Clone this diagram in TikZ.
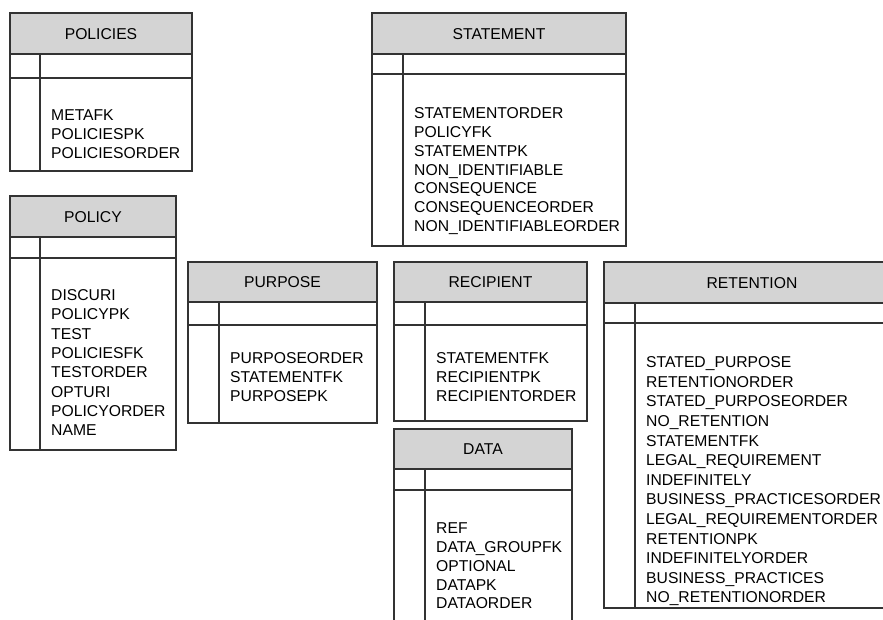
\documentclass[tikz,border=0pt]{standalone}
\usepackage{fontspec}
\setmainfont{Liberation Sans}
% \enttable{id}{left}{right}{top}{header bottom}{row bottom}{bottom}{divider}{title}
\newcommand{\enttable}[9]{%
  \fill[headfill] (#2,#4) rectangle (#3,#5);
  \draw[frame] (#2,#4) rectangle (#3,#7);
  \draw[frame] (#2,#5) -- (#3,#5);
  \draw[frame] (#2,#6) -- (#3,#6);
  \draw[frame] (#8,#5) -- (#8,#7);
  \node[titletext] (#1-title) at ({(#2+#3)/2},{(#4+#5)/2+5.6}) {#9};
}
% \entfields{id}{text x}{first field centre}{spacing}{fields}
\newcommand{\entfields}[5]{%
  \foreach \fld [count=\k] in {#5}{
    \node[fieldtext] (#1-f\k) at (#2,{#3+5.6+(\k-1)*#4}) {\fld};
  }%
}
\begin{document}
\begin{tikzpicture}[x=1pt,y=-1pt,
  frame/.style={draw=black!80, line width=1.3pt},
  headfill/.style={fill=black!17},
  fieldtext/.style={inner sep=0pt, anchor=base west, font=\fontsize{15.7}{19}\selectfont},
  titletext/.style={inner sep=0pt, anchor=base, font=\fontsize{15.7}{19}\selectfont}]
% canvas
\useasboundingbox (0,0) rectangle (883,619);
\clip (0,0) rectangle (883,619);
\enttable{policies}{10}{192}{13}{54}{78}{171}{40}{POLICIES}
\entfields{policies}{51}{115}{19}{METAFK,POLICIESPK,POLICIESORDER}
\enttable{policy}{10}{176}{196}{237}{258}{450}{40}{POLICY}
\entfields{policy}{51}{295}{19.3}{DISCURI,POLICYPK,TEST,POLICIESFK,TESTORDER,OPTURI,POLICYORDER,NAME}
\enttable{statement}{372}{626}{13}{54}{74}{246}{403}{STATEMENT}
\entfields{statement}{414}{113}{18.8}{STATEMENTORDER,POLICYFK,STATEMENTPK,NON\_IDENTIFIABLE,CONSEQUENCE,CONSEQUENCEORDER,NON\_IDENTIFIABLEORDER}
\enttable{purpose}{188}{377}{262}{302}{325}{423}{219}{PURPOSE}
\entfields{purpose}{230}{358}{18.7}{PURPOSEORDER,STATEMENTFK,PURPOSEPK}
\enttable{recipient}{394}{587}{262}{302}{325}{421}{425}{RECIPIENT}
\entfields{recipient}{436}{358}{18.7}{STATEMENTFK,RECIPIENTPK,RECIPIENTORDER}
\enttable{data}{394}{572}{429}{469}{490}{640}{425}{DATA}
\entfields{data}{436}{528}{18.8}{REF,DATA\_GROUPFK,OPTIONAL,DATAPK,DATAORDER}
\enttable{retention}{604}{900}{262}{303}{323}{608}{635}{RETENTION}
\entfields{retention}{646}{362}{19.6}{STATED\_PURPOSE,RETENTIONORDER,STATED\_PURPOSEORDER,NO\_RETENTION,STATEMENTFK,LEGAL\_REQUIREMENT,INDEFINITELY,BUSINESS\_PRACTICESORDER,LEGAL\_REQUIREMENTORDER,RETENTIONPK,INDEFINITELYORDER,BUSINESS\_PRACTICES,NO\_RETENTIONORDER}
\end{tikzpicture}
\end{document}
